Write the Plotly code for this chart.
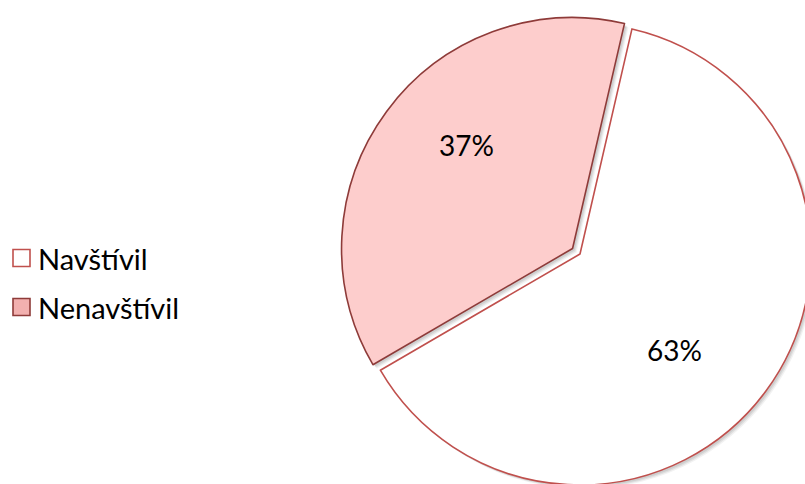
import math
import plotly.graph_objects as go

labels = ["Navštívil", "Nenavštívil"]
values = [63, 37]
slice_colors = ["#FFFFFF", "#FDCDCC"]
line_colors = ["#C0504D", "#8E3B39"]

W, H = 830, 500
CX, CY, R, PULL = 580, 254, 231, 0.04
ROT = 13


def domain(cx, cy, r, pull):
    s = 2 * r * (1 + pull)
    x0, x1 = (cx - s / 2) / W, (cx + s / 2) / W
    y0, y1 = 1 - (cy + s / 2) / H, 1 - (cy - s / 2) / H
    return dict(x=[x0, x1], y=[y0, y1])


fig = go.Figure()

# soft drop shadow layers
for off, a in [(4, 0.05), (3, 0.07), (2, 0.08)]:
    fig.add_trace(go.Pie(
        labels=labels, values=values, sort=False, direction="clockwise",
        rotation=ROT, pull=[0, PULL],
        marker=dict(colors=[f"rgba(0,0,0,{a})"] * 2, line=dict(width=0)),
        textinfo="none", hoverinfo="skip", showlegend=False,
        domain=domain(CX + off, CY + off, R, PULL),
    ))

fig.add_trace(go.Pie(
    labels=labels, values=values, sort=False, direction="clockwise",
    rotation=ROT, pull=[0, PULL],
    marker=dict(colors=slice_colors, line=dict(color=line_colors, width=1.6)),
    textinfo="none",
    hovertemplate="%{label}: %{percent}<extra></extra>",
    showlegend=False,
    domain=domain(CX, CY, R, PULL),
))

# percentage labels placed inside each slice (Excel-like placement)
total = sum(values)
start = ROT
label_geom = [(0.585, 9), (0.64, 8)]  # (radius fraction, angular offset) per slice
for v, p, (rf, da) in zip(values, [0, PULL], label_geom):
    span = v / total * 360
    mid = start + span / 2
    start += span
    ang = math.radians(mid + da)
    pc_x = CX + R * p * math.sin(math.radians(mid))
    pc_y = CY - R * p * math.cos(math.radians(mid))
    tx = pc_x + rf * R * math.sin(ang)
    ty = pc_y - rf * R * math.cos(ang)
    fig.add_annotation(text=f"{round(v / total * 100)}%", xref="paper", yref="paper",
                       x=tx / W, y=1 - ty / H, xanchor="center", yanchor="middle",
                       showarrow=False,
                       font=dict(family="Lato, sans-serif", size=28, color="#000000"))

# legend drawn as boxes + text
leg_fill = ["#FFFFFF", "#F2B0AF"]
leg_line = ["#C0504D", "#8E3B39"]
leg_y = [258, 307]
for lab, f, lc, yy in zip(labels, leg_fill, leg_line, leg_y):
    fig.add_shape(type="rect", xref="paper", yref="paper",
                  x0=13 / W, x1=30 / W, y0=1 - (yy + 8.5) / H, y1=1 - (yy - 8.5) / H,
                  fillcolor=f, line=dict(color=lc, width=1.6))
    fig.add_annotation(text=lab, xref="paper", yref="paper", x=36 / W, y=1 - yy / H,
                       xanchor="left", yanchor="middle", showarrow=False,
                       font=dict(family="Lato, sans-serif", size=29, color="#000000"))

fig.update_layout(
    width=W, height=H, margin=dict(l=0, r=0, t=0, b=0),
    paper_bgcolor="white", plot_bgcolor="white",
)

fig.write_html(
    "out.html",
    config={"displayModeBar": False},
    post_script="document.body.style.margin='0';document.body.style.overflow='hidden';document.documentElement.style.overflow='hidden';",
)
